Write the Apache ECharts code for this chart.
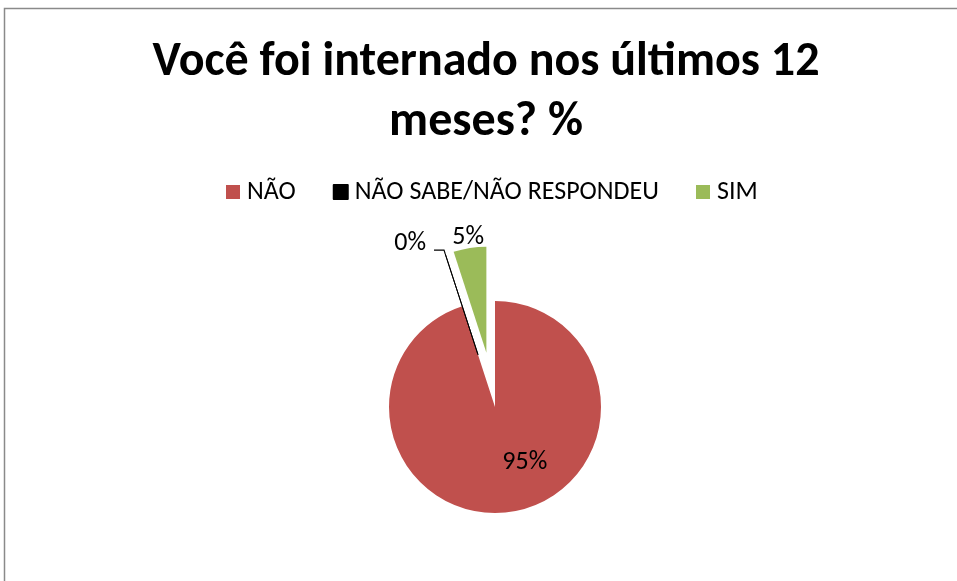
<!DOCTYPE html>
<html>
<head>
<meta charset="utf-8">
<script src="https://cdn.jsdelivr.net/npm/echarts@6/dist/echarts.min.js"></script>
<style>
  html, body { margin: 0; padding: 0; background: #fff; }
  #chart { width: 957px; height: 581px; }
</style>
</head>
<body>
<div id="chart"></div>
<script>
// values (percent)
const categories = ['NÃO', 'NÃO SABE/NÃO RESPONDEU', 'SIM']
const values = [95, 0, 5]
const colors = ['#C0504D', '#000000', '#9BBB59']
const exploded = [false, true, true]

const font = 'Carlito, Calibri, Lato, sans-serif'

// label placement per slice (excel-ish "best fit")
const labelOpts = [
  { position: 'inside', padding: [0, 0, 0, 42] },
  { position: 'outside', formatter: '{c}%\n', lineHeight: 14, distanceToLabelLine: 8 },
  { position: 'outside', distanceToLabelLine: -16 }
]
const lineOpts = [
  { show: false },
  { show: true, length: 4, length2: 10, lineStyle: { color: '#000', width: 1.2 } },
  { show: false, length: 11, length2: 0 }
]

const chart = echarts.init(document.getElementById('chart'))

chart.setOption({
  animation: false,
  title: {
    text: 'Você foi internado nos últimos 12\nmeses? %',
    left: 486,
    top: 33,
    padding: 0,
    textAlign: 'center',
    textStyle: {
      fontFamily: font,
      fontWeight: 'bold',
      fontSize: 48,
      lineHeight: 60,
      color: '#000'
    }
  },
  legend: {
    data: categories,
    left: 226,
    top: 179,
    padding: 0,
    icon: 'rect',
    itemWidth: 14,
    itemHeight: 14,
    itemGap: 37,
    textStyle: {
      fontFamily: font,
      fontSize: 26,
      lineHeight: 26,
      color: '#000',
      padding: [0, 0, 0, 2]
    }
  },
  graphic: [{
    type: 'rect',
    shape: { x: 4.5, y: 8.5, width: 1000, height: 1000 },
    style: { fill: 'none', stroke: '#8a8a8a', lineWidth: 1.5 },
    silent: true
  }],
  series: [{
    type: 'pie',
    center: [495, 407],
    radius: 106,
    startAngle: 90,
    clockwise: true,
    selectedMode: 'multiple',
    selectedOffset: 55,
    avoidLabelOverlap: false,
    label: {
      formatter: '{c}%',
      fontFamily: font,
      fontSize: 26,
      color: '#000',
      overflow: 'none',
      distanceToLabelLine: 5
    },
    emphasis: { scale: false },
    data: categories.map((name, i) => ({
      name: name,
      value: values[i],
      selected: exploded[i],
      itemStyle: {
        color: colors[i],
        borderColor: '#000',
        borderWidth: values[i] === 0 ? 1 : 0
      },
      select: {
        itemStyle: {
          color: colors[i],
          borderColor: '#000',
          borderWidth: values[i] === 0 ? 1 : 0
        }
      },
      label: labelOpts[i],
      labelLine: lineOpts[i]
    }))
  }]
})
</script>
</body>
</html>
